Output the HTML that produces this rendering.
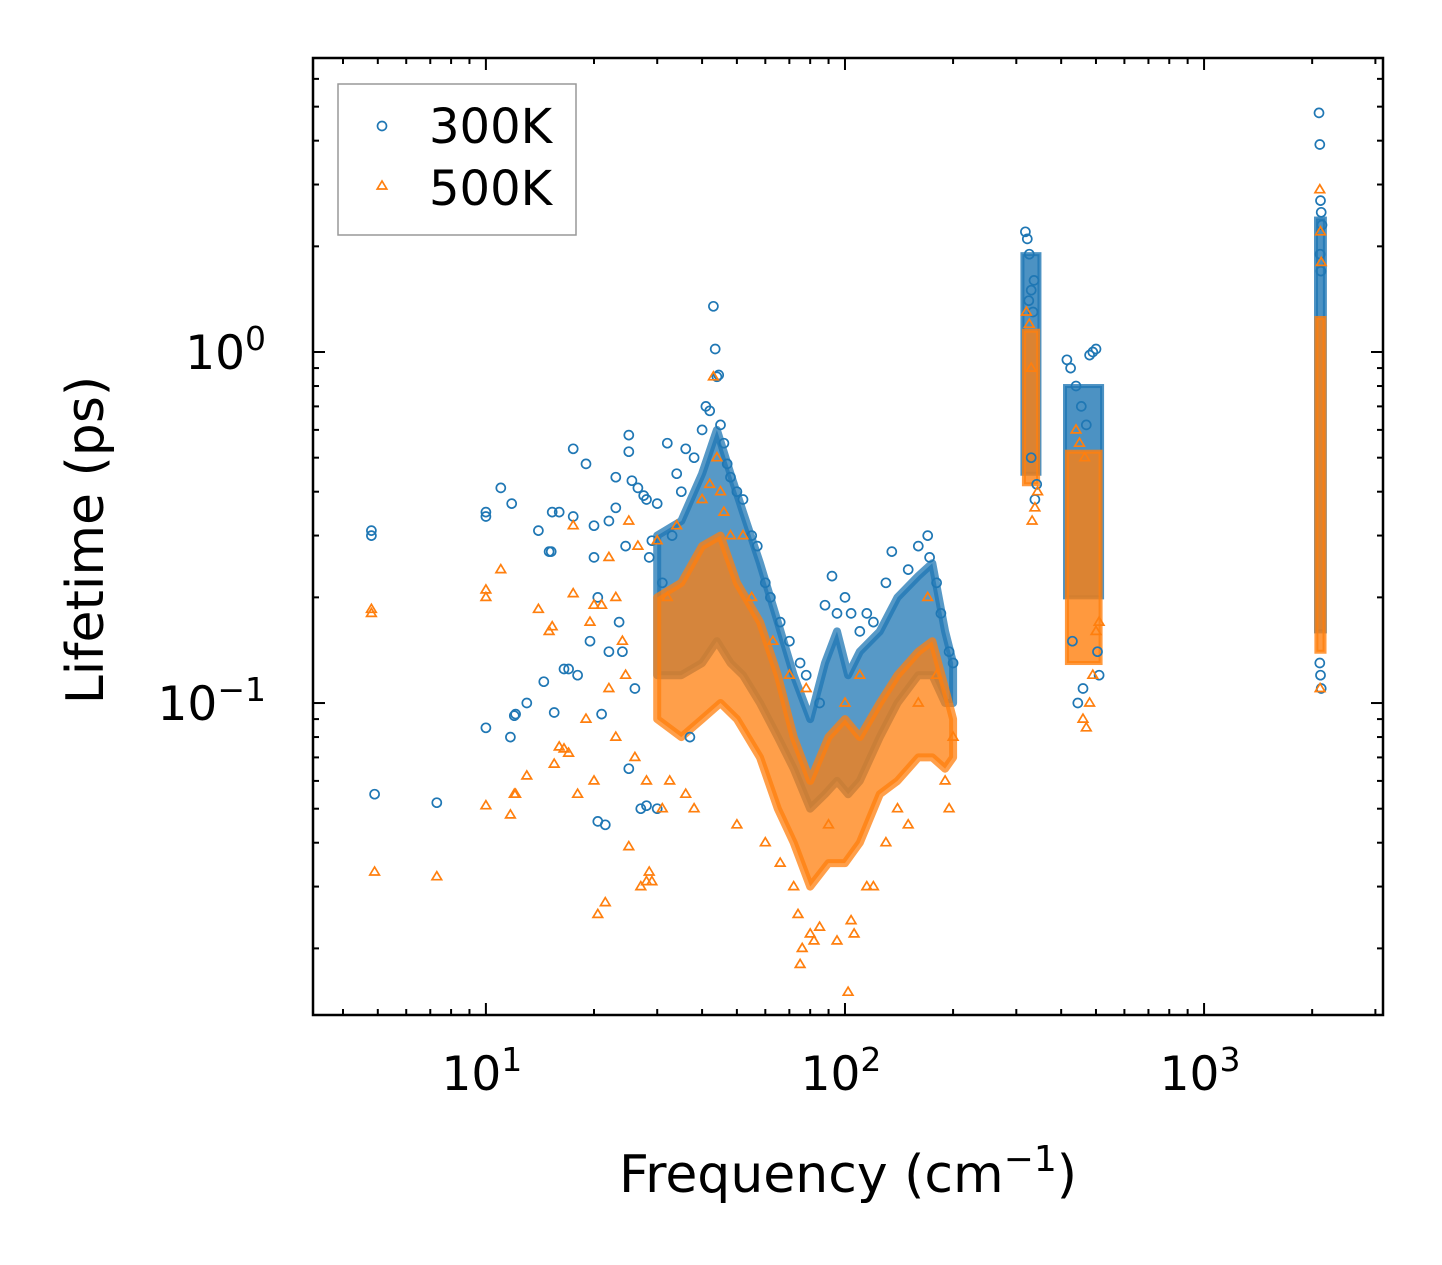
<!DOCTYPE html>
<html><head><meta charset="utf-8">
<style>
html,body{margin:0;padding:0;background:#fff;}
svg{display:block;font-family:"DejaVu Sans","Liberation Sans",sans-serif;}
</style></head>
<body>
<svg id="chart" width="1442" height="1265" viewBox="0 0 1442 1265" xmlns="http://www.w3.org/2000/svg">
<g id="bands"></g>
<g id="pts"></g>
<rect x="313" y="58" width="1070" height="957" fill="none" stroke="#000" stroke-width="2.5"/>
<g id="ticks"></g>
<text x="848" y="1192" font-size="52" text-anchor="middle">Frequency (cm<tspan dy="-21" font-size="36">−1</tspan><tspan dy="21">)</tspan></text>
<text transform="translate(103,540) rotate(-90)" font-size="52" text-anchor="middle">Lifetime (ps)</text>
<g>
<rect x="338" y="84" width="238" height="151" fill="#fff" stroke="#999" stroke-width="1.5"/>
<circle cx="382" cy="126" r="4.5" fill="none" stroke="#1f77b4" stroke-width="1.7"/>
<text x="429" y="143" font-size="48">300K</text>
<path d="M382,181 l-4.8,8 h9.6 z" fill="none" stroke="#ff7f0e" stroke-width="1.7"/>
<text x="429" y="205" font-size="48">500K</text>
</g>
</svg>
<script>
// axis domain
const xMinLog = Math.log10(3.3), xMaxLog = Math.log10(3150);
const yMinLog = Math.log10(0.01292), yMaxLog = Math.log10(6.88);
const X0 = 313, X1 = 1383, Y0 = 1015, Y1 = 58;
function xs(f){return X0 + (Math.log10(f)-xMinLog)/(xMaxLog-xMinLog)*(X1-X0);}
function ys(v){return Y0 - (Math.log10(v)-yMinLog)/(yMaxLog-yMinLog)*(Y0-Y1);}

// dense-region envelopes (frequency, low lifetime, high lifetime)
const blueEnvF  = [30,35,40,44,48,52,58,65,72,80,88,95,102,110,125,140,160,175,190,200];
const blueEnvLo = [0.12,0.12,0.13,0.15,0.13,0.12,0.10,0.08,0.065,0.05,0.055,0.06,0.055,0.06,0.08,0.10,0.12,0.12,0.10,0.10];
const blueEnvHi = [0.30,0.33,0.45,0.6,0.45,0.35,0.25,0.17,0.12,0.09,0.13,0.16,0.12,0.14,0.16,0.20,0.23,0.25,0.16,0.13];
const orgEnvF  = [30,35,40,45,50,58,65,72,80,90,100,110,125,140,160,175,190,200];
const orgEnvLo = [0.09,0.08,0.09,0.10,0.09,0.07,0.05,0.04,0.03,0.035,0.035,0.04,0.055,0.06,0.07,0.07,0.065,0.07];
const orgEnvHi = [0.2,0.22,0.28,0.30,0.22,0.17,0.12,0.08,0.06,0.08,0.09,0.08,0.10,0.12,0.14,0.15,0.11,0.09];
// high-frequency columns
const blueColF0 = [312,410,2050], blueColF1 = [348,520,2170], blueColLo = [0.45,0.2,0.16], blueColHi = [1.9,0.8,2.4];
const orgColF0  = [315,415,2055], orgColF1  = [345,515,2165], orgColLo  = [0.42,0.13,0.14], orgColHi  = [1.15,0.52,1.25];

// scattered points 300K
const blueF = [4.8,4.8,4.9,7.3,10,10,10,11,11.7,11.8,12,12.1,13,14,14.5,15,15.2,15.3,15.5,16,16.5,17,17.5,17.5,18,19,19.5,20,20,20.5,20.5,21,21.5,22,22,23,23,23.5,24,24.5,25,25,25,25.5,26,26.5,27,27.5,28,28,28.5,29,30,30,31,32,33,34,35,36,37,38,40,41,42,43,43.5,44,44.5,45,46,47,48,50,52,55,57,60,62,66,70,75,78,85,88,92,95,100,104,110,115,120,130,135,150,160,170,172,180,185,195,200,
 318,322,326,330,334,338,342,330,336,325,
 415,425,440,455,470,480,490,500,505,510,460,445,430,
 2090,2100,2110,2120,2130,2100,2110,2120,2105,2115];
const blueV = [0.31,0.30,0.055,0.052,0.35,0.34,0.085,0.41,0.08,0.37,0.092,0.093,0.10,0.31,0.115,0.27,0.27,0.35,0.094,0.35,0.125,0.125,0.53,0.34,0.12,0.48,0.15,0.26,0.32,0.2,0.046,0.093,0.045,0.33,0.14,0.44,0.36,0.17,0.14,0.28,0.58,0.52,0.065,0.43,0.11,0.41,0.05,0.39,0.38,0.051,0.26,0.29,0.37,0.05,0.22,0.55,0.3,0.45,0.4,0.53,0.08,0.5,0.6,0.7,0.68,1.35,1.02,0.85,0.86,0.62,0.55,0.48,0.44,0.4,0.38,0.3,0.28,0.22,0.2,0.17,0.15,0.13,0.12,0.1,0.19,0.23,0.18,0.2,0.18,0.16,0.18,0.17,0.22,0.27,0.24,0.28,0.3,0.26,0.22,0.18,0.14,0.13,
 2.2,2.1,1.9,1.5,1.3,0.38,0.42,0.5,1.6,1.4,
 0.95,0.9,0.8,0.7,0.62,0.98,1.0,1.02,0.14,0.12,0.11,0.1,0.15,
 4.8,3.9,2.7,2.5,2.3,0.13,0.12,0.11,1.9,1.7];
// scattered points 500K
const orgF = [4.8,4.8,4.9,7.3,10,10,10,11,11.7,12,12.1,13,14,15,15.3,15.5,16,16.5,17,17.5,17.5,18,19,19.5,20,20,20.5,21,21.5,22,22,23,23,24,24.5,25,25,26,26.5,27,28,28,28.5,29,30,31,32,32.5,34,36,38,40,42,43,44,45,46,48,50,52,55,60,63,66,70,72,74,75,76,78,80,82,85,90,95,100,102,104,106,110,115,120,130,140,150,160,170,180,190,195,200,
 320,326,332,338,344,330,
 440,450,460,470,480,490,500,510,465,
 2100,2110,2120,2105];
const orgV = [0.185,0.18,0.033,0.032,0.21,0.2,0.051,0.24,0.048,0.055,0.055,0.062,0.185,0.16,0.165,0.067,0.075,0.074,0.072,0.32,0.205,0.055,0.09,0.17,0.19,0.06,0.025,0.19,0.027,0.26,0.11,0.2,0.08,0.15,0.12,0.33,0.039,0.07,0.28,0.03,0.031,0.06,0.033,0.031,0.29,0.05,0.2,0.06,0.32,0.055,0.05,0.38,0.42,0.85,0.5,0.4,0.35,0.3,0.045,0.3,0.2,0.04,0.15,0.035,0.12,0.03,0.025,0.018,0.02,0.11,0.022,0.021,0.023,0.045,0.021,0.1,0.015,0.024,0.022,0.12,0.03,0.03,0.04,0.05,0.045,0.1,0.2,0.12,0.06,0.05,0.08,
 1.3,1.2,0.33,0.36,0.4,0.9,
 0.6,0.55,0.09,0.085,0.1,0.12,0.16,0.17,0.5,
 2.9,2.2,1.8,0.11];

const NS='http://www.w3.org/2000/svg';
const bands=document.getElementById('bands'), pts=document.getElementById('pts'), ticks=document.getElementById('ticks');
function mk(tag,attrs,parent){const e=document.createElementNS(NS,tag);for(const k in attrs)e.setAttribute(k,attrs[k]);parent.appendChild(e);return e;}

function envelope(F,Lo,Hi,color,name){
  let d='M'+F.map((f,i)=>xs(f).toFixed(1)+','+ys(Hi[i]).toFixed(1)).join(' L');
  for(let i=F.length-1;i>=0;i--) d+=' L'+xs(F[i]).toFixed(1)+','+ys(Lo[i]).toFixed(1);
  const p=mk('path',{d:d+'Z',fill:color,'fill-opacity':'0.75',stroke:color,'stroke-opacity':'0.75','stroke-width':'8','stroke-linejoin':'round'},bands);
  
  
}
function columns(F0,F1,Lo,Hi,color,name){
  for(let i=0;i<F0.length;i++){
    const r=mk('rect',{x:xs(F0[i]),y:ys(Hi[i]),width:xs(F1[i])-xs(F0[i]),height:ys(Lo[i])-ys(Hi[i]),fill:color,'fill-opacity':'0.8',stroke:color,'stroke-opacity':'0.8','stroke-width':'4'},bands);
    
    
  }
}
envelope(blueEnvF,blueEnvLo,blueEnvHi,'#1f77b4','cloud-300k');
columns(blueColF0,blueColF1,blueColLo,blueColHi,'#1f77b4','column-300k');
blueF.forEach((f,i)=>{
  const c=mk('circle',{cx:xs(f).toFixed(1),cy:ys(blueV[i]).toFixed(1),r:4.5,fill:'none',stroke:'#1f77b4','stroke-width':1.7},pts);
  
  
});
envelope(orgEnvF,orgEnvLo,orgEnvHi,'#ff7f0e','cloud-500k');
columns(orgColF0,orgColF1,orgColLo,orgColHi,'#ff7f0e','column-500k');
orgF.forEach((f,i)=>{
  const x=xs(f),y=ys(orgV[i]);
  const t=mk('path',{d:`M${x.toFixed(1)},${(y-5).toFixed(1)} l-4.8,8 h9.6 z`,fill:'none',stroke:'#ff7f0e','stroke-width':1.7},pts);
  
  
});

// ticks
const xMajor=[1,2,3], yMajor=[0,-1];
function line(x1,y1,x2,y2,name){const l=mk('line',{x1,y1,x2,y2,stroke:'#000','stroke-width':2},ticks);}
for(let d=0;d<=3;d++)for(let m=1;m<10;m++){
  const f=m*Math.pow(10,d); if(f<3.3||f>3150)continue;
  const x=xs(f), L=m===1?12:6;
  line(x,Y0,x,Y0-L,'x-tick'); line(x,Y1,x,Y1+L,'x-tick-top');
}
for(let d=-2;d<=0;d++)for(let m=1;m<10;m++){
  const v=m*Math.pow(10,d); if(v<0.0129||v>6.88)continue;
  const y=ys(v), L=m===1?12:6;
  line(X0,y,X0+L,y,'y-tick'); line(X1,y,X1-L,y,'y-tick-right');
}
xMajor.forEach(e=>{
  const t=mk('text',{x:xs(Math.pow(10,e))-4,y:1090,'font-size':47,'text-anchor':'middle'},ticks);
  
  
  t.innerHTML='10<tspan dy="-19" font-size="33">'+e+'</tspan>';
});
yMajor.forEach(e=>{
  const t=mk('text',{x:266,y:ys(Math.pow(10,e))+17,'font-size':47,'text-anchor':'end'},ticks);
  
  
  t.innerHTML='10<tspan dy="-19" font-size="33">'+(e<0?'−1':'0')+'</tspan>';
});
</script>
</body></html>
